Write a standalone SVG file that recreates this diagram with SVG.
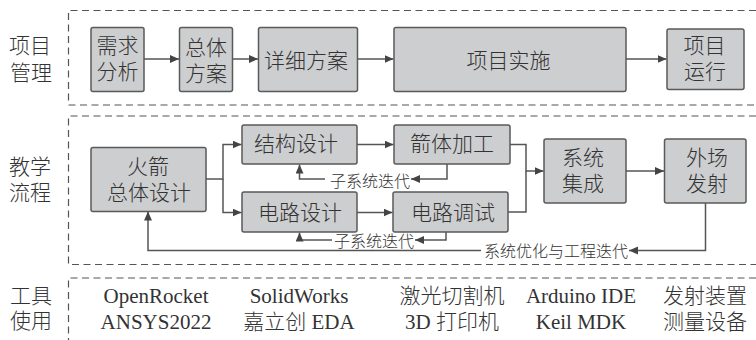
<svg xmlns="http://www.w3.org/2000/svg" width="756" height="340" viewBox="0 0 756 340">
<style>
.f{fill:#ffffff}
.d{fill:none;stroke:#555;stroke-width:1.2;stroke-dasharray:7 4.5}
.n{fill:#cdced0;stroke:#5a5a5a;stroke-width:1.5}
.c{fill:none;stroke:#555;stroke-width:1.5}
text{font-family:"Liberation Serif","Noto Sans CJK SC",serif;font-size:21px;fill:#333;text-anchor:middle;font-weight:300}
.s{font-size:16px}
</style>
<defs>
<marker id="a" markerUnits="userSpaceOnUse" markerWidth="10" markerHeight="10" refX="9" refY="4" orient="auto"><path d="M0 0L9 4L0 8Z" fill="#444"/></marker>
</defs>
<rect class="f" width="756" height="340"/>
<g id="frames">
<path class="d" d="M756 10.500H68.500V105H756"/>
<path class="d" d="M756 116H68.500V264.500H756"/>
<path class="d" d="M756 278H68.500V340"/>
</g>
<g id="connectors">
<path class="c" marker-end="url(#a)" d="M144 59H179"/>
<path class="c" marker-end="url(#a)" d="M232.500 59H258"/>
<path class="c" marker-end="url(#a)" d="M357.500 59H393.500"/>
<path class="c" marker-end="url(#a)" d="M626 59H666.500"/>
<path class="c" marker-end="url(#a)" d="M206 179H223V144.500H241.500"/>
<path class="c" marker-end="url(#a)" d="M223 179V212.500H241.500"/>
<path class="c" marker-end="url(#a)" d="M357 144.500H393.500"/>
<path class="c" marker-end="url(#a)" d="M357 212.500H392.500"/>
<path class="c" marker-end="url(#a)" d="M510 144.500H526V171H543.500"/>
<path class="c" d="M508 212H526V171"/>
<path class="c" marker-end="url(#a)" d="M626 171H664"/>
<path class="c" marker-end="url(#a)" d="M447 164V179H411"/>
<path class="c" marker-end="url(#a)" d="M325 179H299.500V164.500"/>
<path class="c" marker-end="url(#a)" d="M446 232V240H415"/>
<path class="c" marker-end="url(#a)" d="M332 240H299.500V232.500"/>
<path class="c" marker-end="url(#a)" d="M705.500 203V250.500H629"/>
<path class="c" marker-end="url(#a)" d="M481 250.500H148V211.500"/>
</g>
<g id="n1"><rect class="n" x="91" y="27.500" width="53" height="64" rx="2"/><text x="117.500" y="52.500">需求</text><text x="117.500" y="79">分析</text></g>
<g id="n2"><rect class="n" x="179.500" y="27.500" width="53" height="64" rx="2"/><text x="206" y="55">总体</text><text x="206" y="81">方案</text></g>
<g id="n3"><rect class="n" x="258.500" y="27.500" width="99" height="64" rx="2"/><text x="306" y="68">详细方案</text></g>
<g id="n4"><rect class="n" x="394" y="27.500" width="232" height="64" rx="2"/><text x="508.500" y="67.500">项目实施</text></g>
<g id="n5"><rect class="n" x="667" y="29" width="77" height="60.500" rx="2"/><text x="704.500" y="52.500">项目</text><text x="705" y="79">运行</text></g>
<g id="n6"><rect class="n" x="91" y="147.500" width="115" height="64" rx="2"/><text x="148" y="173.500">火箭</text><text x="149" y="199.500">总体设计</text></g>
<g id="n7"><rect class="n" x="242" y="125" width="115" height="39" rx="2"/><text x="296" y="151">结构设计</text></g>
<g id="n8"><rect class="n" x="242" y="192" width="115" height="40" rx="2"/><text x="300" y="220">电路设计</text></g>
<g id="n9"><rect class="n" x="394" y="125" width="116" height="39" rx="2"/><text x="452" y="151">箭体加工</text></g>
<g id="n10"><rect class="n" x="393" y="192" width="115" height="40" rx="2"/><text x="453" y="219.500">电路调试</text></g>
<g id="n11"><rect class="n" x="544" y="139" width="82" height="64" rx="2"/><text x="583" y="164.500">系统</text><text x="583" y="190.500">集成</text></g>
<g id="n12"><rect class="n" x="664.500" y="139" width="81.500" height="64" rx="2"/><text x="707" y="164.500">外场</text><text x="707" y="190.500">发射</text></g>
<g id="labels">
<text x="30" y="52.500">项目</text><text x="31" y="79.500">管理</text>
<text x="30" y="173.500">教学</text><text x="30" y="199.500">流程</text>
<text x="31" y="302.500">工具</text><text x="31" y="327.500">使用</text>
<text class="s" x="370" y="186.500">子系统迭代</text>
<text class="s" x="374" y="246.500">子系统迭代</text>
<text class="s" x="556" y="256.500">系统优化与工程迭代</text>
</g>
<g id="tools">
<text x="156" y="303">OpenRocket</text><text x="156" y="328.500">ANSYS2022</text>
<text x="299" y="303">SolidWorks</text><text x="299" y="328.500">嘉立创 EDA</text>
<text x="452" y="303">激光切割机</text><text x="452" y="328.500">3D 打印机</text>
<text x="581" y="303">Arduino IDE</text><text x="581" y="328.500">Keil MDK</text>
<text x="705" y="303">发射装置</text><text x="705" y="328.500">测量设备</text>
</g>
</svg>
